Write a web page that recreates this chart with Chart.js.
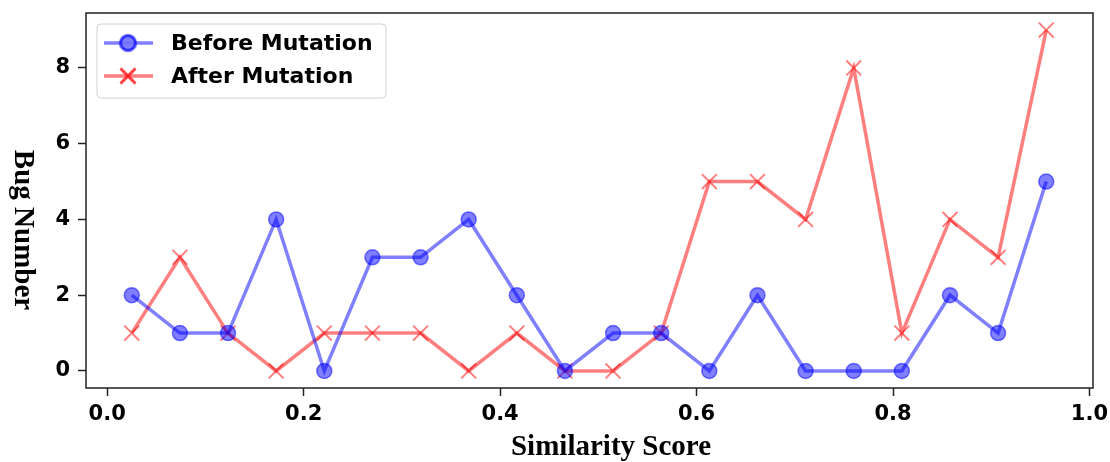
<!DOCTYPE html>
<html>
<head>
<meta charset="utf-8">
<script src="https://cdn.jsdelivr.net/npm/chart.js@4.4.1/dist/chart.umd.min.js"></script>
<style>
  html, body { margin: 0; padding: 0; background: #fff; }
  #wrap { width: 1110px; height: 462px; }
</style>
</head>
<body>
<div id="wrap"><canvas id="bugChart"></canvas></div>
<script>
const scores     = [0.025, 0.074, 0.123, 0.172, 0.221, 0.270, 0.319, 0.368, 0.417, 0.466,
                    0.515, 0.564, 0.613, 0.662, 0.711, 0.760, 0.809, 0.858, 0.907, 0.956];
const beforeBugs = [2, 1, 1, 4, 0, 3, 3, 4, 2, 0, 1, 1, 0, 2, 0, 0, 0, 2, 1, 5];
const afterBugs  = [1, 3, 1, 0, 1, 1, 1, 0, 1, 0, 0, 1, 5, 5, 4, 8, 1, 4, 3, 9];
const seriesNames = ['Before Mutation', 'After Mutation'];
const xTicks = [0.0, 0.2, 0.4, 0.6, 0.8, 1.0];
const yTicks = [0, 2, 4, 6, 8];
const xTitle = 'Similarity Score';
const yTitle = 'Bug Number';

const BLUE = 'rgba(0,0,255,0.5)';
const RED  = 'rgba(255,0,0,0.5)';
const tickFont = { family: 'DejaVu Sans', size: 21, weight: 'bold' };

// frame, axis titles and the in-plot legend (matplotlib style)
const decorPlugin = {
  id: 'decor',
  afterDraw(chart) {
    const { ctx, chartArea: a } = chart;
    ctx.save();
    ctx.strokeStyle = '#222';
    ctx.lineWidth = 1.5;
    ctx.strokeRect(a.left, a.top, a.right - a.left, a.bottom - a.top);

    ctx.fillStyle = '#000';
    ctx.font = 'bold 29px "Liberation Serif"';
    ctx.textAlign = 'center';
    ctx.textBaseline = 'alphabetic';
    ctx.fillText(xTitle, 611, 455);

    ctx.save();
    ctx.translate(22, 230);
    ctx.rotate(Math.PI / 2);
    ctx.textBaseline = 'middle';
    ctx.fillText(yTitle, 0, 0);
    ctx.restore();

    // legend
    ctx.beginPath();
    ctx.roundRect(97, 24, 289, 74, 4);
    ctx.fillStyle = 'rgba(255,255,255,0.8)';
    ctx.fill();
    ctx.strokeStyle = '#d0d0d0';
    ctx.lineWidth = 1;
    ctx.stroke();

    const rows = [43, 76];
    chart.data.datasets.forEach((ds, i) => {
      const y = rows[i];
      ctx.strokeStyle = ds.borderColor;
      ctx.lineWidth = ds.borderWidth;
      ctx.beginPath();
      ctx.moveTo(104, y);
      ctx.lineTo(153, y);
      ctx.stroke();
      Chart.helpers.drawPoint(ctx, {
        pointStyle: ds.pointStyle,
        radius: ds.pointRadius,
        borderWidth: ds.pointBorderWidth,
        rotation: 0
      }, 128, y);
      if (ds.pointStyle === 'circle') {
        ctx.fillStyle = ds.pointBackgroundColor;
        ctx.fill();
      }
      ctx.strokeStyle = ds.pointBorderColor;
      ctx.lineWidth = ds.pointBorderWidth;
      ctx.stroke();
      ctx.fillStyle = '#000';
      ctx.font = 'bold 22px "DejaVu Sans"';
      ctx.textAlign = 'left';
      ctx.textBaseline = 'middle';
      ctx.fillText(ds.label, 171, y + 1);
    });
    ctx.restore();
  }
};

new Chart(document.getElementById('bugChart'), {
  type: 'line',
  data: {
    datasets: [
      {
        label: seriesNames[0],
        data: scores.map((x, i) => ({ x, y: beforeBugs[i] })),
        borderColor: BLUE,
        borderWidth: 3.5,
        pointStyle: 'circle',
        pointRadius: 7.5,
        pointBackgroundColor: BLUE,
        pointBorderColor: BLUE,
        pointBorderWidth: 1.5,
        tension: 0,
        clip: false
      },
      {
        label: seriesNames[1],
        data: scores.map((x, i) => ({ x, y: afterBugs[i] })),
        borderColor: RED,
        borderWidth: 3.5,
        pointStyle: 'crossRot',
        pointRadius: 10.5,
        pointBackgroundColor: RED,
        pointBorderColor: RED,
        pointBorderWidth: 2,
        tension: 0,
        clip: false
      }
    ]
  },
  options: {
    responsive: true,
    maintainAspectRatio: false,
    animation: false,
    events: [],
    layout: { padding: { top: 13, right: 17, left: 0, bottom: 0 } },
    plugins: { legend: { display: false }, tooltip: { enabled: false } },
    scales: {
      x: {
        type: 'linear',
        min: -0.0216,
        max: 1.0036,
        afterBuildTicks: s => { s.ticks = xTicks.map(v => ({ value: v })); },
        afterFit: s => { s.height = 74; s.paddingLeft = 0; s.paddingRight = 0; },
        ticks: { font: tickFont, color: '#000', padding: 6, maxRotation: 0, callback: v => v.toFixed(1) },
        grid: { drawOnChartArea: false, drawTicks: true, tickLength: 8, tickColor: '#222', tickWidth: 1.5 },
        border: { display: false }
      },
      y: {
        min: -0.45,
        max: 9.45,
        afterBuildTicks: s => { s.ticks = yTicks.map(v => ({ value: v })); },
        afterFit: s => { s.width = 86; s.paddingTop = 0; s.paddingBottom = 0; },
        ticks: { font: tickFont, color: '#000', padding: 8, callback: v => String(v) },
        grid: { drawOnChartArea: false, drawTicks: true, tickLength: 8, tickColor: '#222', tickWidth: 1.5 },
        border: { display: false }
      }
    }
  },
  plugins: [decorPlugin]
});
</script>
</body>
</html>
